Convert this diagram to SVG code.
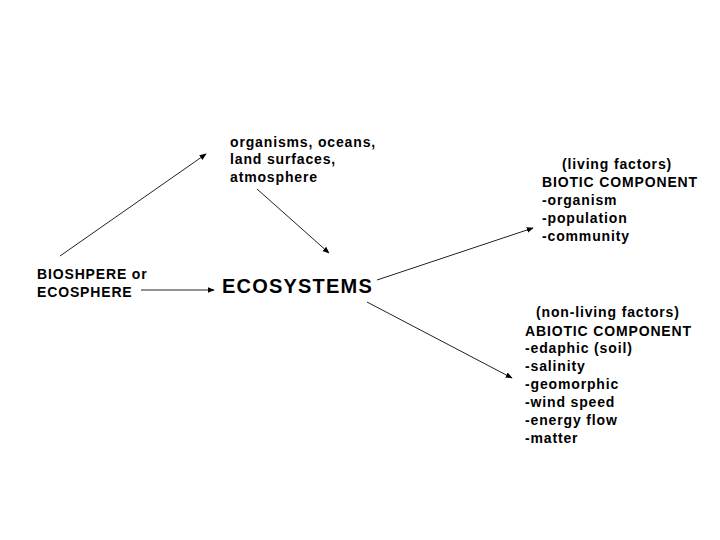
<svg xmlns="http://www.w3.org/2000/svg" width="720" height="540" viewBox="0 0 720 540">
<style>
text{font-family:"Liberation Sans",Arial,sans-serif;font-weight:bold;font-size:14px;fill:#000;letter-spacing:0.85px}
.big{font-size:20px;letter-spacing:1.2px}
.con line{stroke:#222;stroke-width:1;fill:none;marker-end:url(#ah)}
</style>
<defs>
<marker id="ah" viewBox="0 0 10 10" refX="9" refY="5" markerWidth="7" markerHeight="7" markerUnits="userSpaceOnUse" orient="auto">
<path d="M0,1 L10,5 L0,9 Z" fill="#000"/>
</marker>
</defs>
<rect width="720" height="540" fill="#fff"/>
<g id="biosphere">
<text x="37" y="279">BIOSHPERE or</text>
<text x="37" y="297">ECOSPHERE</text>
</g>
<g id="components">
<text x="230" y="147">organisms, oceans,</text>
<text x="230" y="164">land surfaces,</text>
<text x="230" y="182">atmosphere</text>
</g>
<g id="ecosystems">
<text class="big" x="222" y="293">ECOSYSTEMS</text>
</g>
<g id="biotic">
<text x="562" y="169">(living factors)</text>
<text x="542" y="187">BIOTIC COMPONENT</text>
<text x="542" y="205">-organism</text>
<text x="542" y="223">-population</text>
<text x="542" y="241">-community</text>
</g>
<g id="abiotic">
<text x="536" y="317">(non-living factors)</text>
<text x="525" y="336">ABIOTIC COMPONENT</text>
<text x="525" y="353">-edaphic (soil)</text>
<text x="525" y="371">-salinity</text>
<text x="525" y="389">-geomorphic</text>
<text x="525" y="407">-wind speed</text>
<text x="525" y="425">-energy flow</text>
<text x="525" y="443">-matter</text>
</g>
<g class="con" id="connectors">
<line x1="60" y1="256" x2="206" y2="154"/>
<line x1="257" y1="189" x2="329" y2="253"/>
<line x1="141" y1="290" x2="214" y2="290"/>
<line x1="377" y1="280" x2="533" y2="228"/>
<line x1="367" y1="302" x2="512" y2="378"/>
</g>
</svg>
